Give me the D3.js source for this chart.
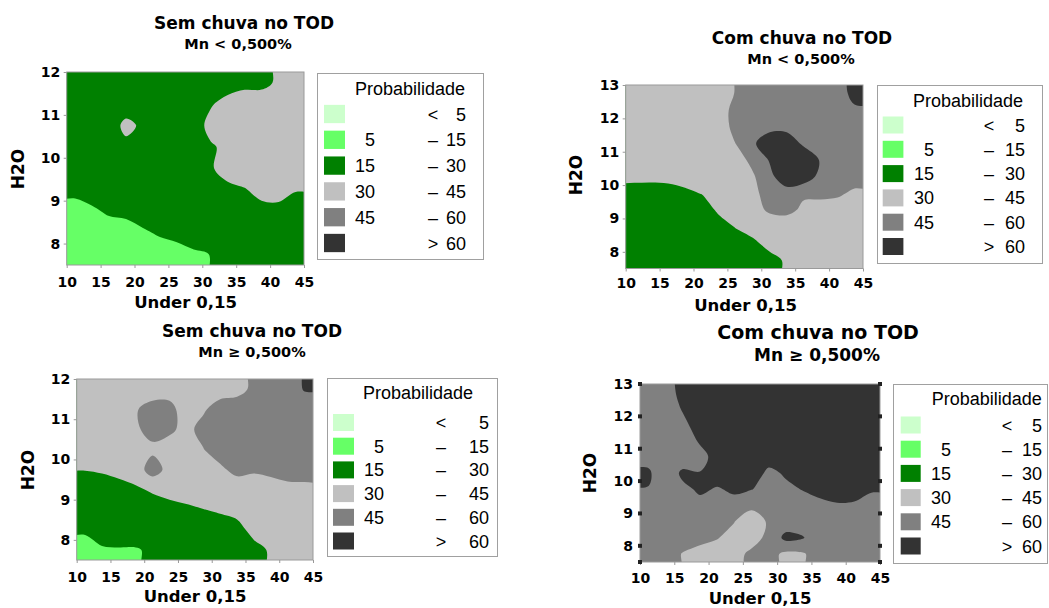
<!DOCTYPE html>
<html>
<head>
<meta charset="utf-8">
<script src="https://cdn.jsdelivr.net/npm/d3@7"></script>
<style>
  body { margin: 0; background: #fff; }
  .title, .axis-label { font-family: "DejaVu Sans", Verdana, sans-serif; font-weight: bold; fill: #000; }
  .axis text { font-family: "DejaVu Sans", Verdana, sans-serif; font-weight: bold; font-size: 14px; fill: #000; }
  .axis line { stroke: #999; }
  .axis path { display: none; }
  .legend text { font-family: "Liberation Sans", Arial, sans-serif; font-size: 18px; fill: #000; }
</style>
</head>
<body>
<svg id="chart" width="1049" height="608"></svg>
<script>
// Probability classes (lower limits) and their colours
var classLimits = [0, 5, 15, 30, 45, 60];
var classColors = ["#ccffcc", "#66ff66", "#008000", "#c0c0c0", "#808080", "#333333"];

// Legend text columns
var legendLow = ["", "5", "15", "30", "45", ""];
var legendSym = ["<", "\u2013", "\u2013", "\u2013", "\u2013", ">"];
var legendHigh = ["5", "15", "30", "45", "60", "60"];

// Tick labels
var xTicks = [10, 15, 20, 25, 30, 35, 40, 45];
var yTicks12 = [8, 9, 10, 11, 12];
var yTicks13 = [8, 9, 10, 11, 12, 13];

var titles = ["Sem chuva no TOD", "Com chuva no TOD", "Sem chuva no TOD", "Com chuva no TOD"];
var subtitles = ["Mn < 0,500%", "Mn < 0,500%", "Mn \u2265 0,500%", "Mn \u2265 0,500%"];

// Probability (%), cells of 2.5 (Under 0,15) x 0.5 (H2O),
// rows from the highest H2O down to 7.5
var probSemMnBaixo = [
  [22, 22, 23, 23, 23, 24, 24, 24, 24, 22, 25, 26.5, 32, 36],
  [22, 22, 23, 18, 23, 24, 24, 25, 28.6, 36, 40, 37.4, 40, 40],
  [22, 22, 18, 36, 26, 23, 24, 22, 35, 40, 42, 42, 42, 40],
  [22, 22, 22, 24, 22, 23, 24, 25, 28.2, 33.5, 40, 42, 42, 40],
  [21, 22, 22, 22, 22, 23, 24, 25, 28, 38, 36, 40, 40, 38],
  [19, 22.4, 23, 24, 24, 24, 24, 25, 26, 25, 29.3, 33.2, 35, 31],
  [9, 12.4, 17.2, 18.6, 22.8, 23, 24, 24, 24, 24, 25, 26.8, 26.1, 21],
  [8, 8, 7.2, 8.6, 12.8, 17, 19.4, 22.8, 23, 23, 23, 23, 22, 21],
  [7, 7, 7, 7, 7, 7, 9.4, 12.8, 15.3, 20, 22, 22, 22, 21]
];

var probComMnBaixo = [
  [37, 37, 37, 37, 37, 36, 46, 52, 53, 53, 53, 53, 54, 64],
  [37, 37, 37, 37, 38, 39.2, 49.2, 52, 53, 54, 54, 53, 52, 58],
  [37, 37, 37, 37, 38, 38.8, 48.8, 53, 56.4, 56, 55, 53, 52, 52],
  [37, 37, 37, 37, 37, 35.2, 45.2, 58.3, 67, 68, 57.7, 53, 52, 52],
  [36, 36, 36, 37, 37, 37, 38.8, 48.8, 61.2, 70, 70, 58.9, 52, 52],
  [33.6, 33.4, 34, 36.6, 37, 38, 40, 43.2, 56, 70, 68, 55.9, 50, 52],
  [23.6, 23.4, 24, 26.6, 30.6, 38, 40, 41.2, 51.2, 53.3, 48, 50, 47.5, 42],
  [20, 20, 21, 22, 21, 33, 37, 38, 48, 50.8, 40.8, 36, 37, 37],
  [20, 20, 21, 22, 22, 23, 31, 36.6, 33, 32, 37, 37, 37, 37],
  [20, 20, 21, 22, 22, 22, 21, 26.6, 35, 36, 37, 37, 37, 37],
  [20, 20, 21, 22, 22, 22, 22, 23, 25, 32.1, 36, 37, 37, 37]
];

var probSemMnAlto = [
  [37, 37, 37, 37, 38, 38, 37, 37, 37, 38.8, 48.8, 52, 53, 61],
  [37, 37, 37, 44, 50, 50, 37, 42.8, 52.8, 55, 55, 55, 54, 53],
  [37, 37, 37, 43, 50, 48, 40.4, 50.4, 55, 56, 56, 55, 54, 53],
  [37, 37, 37, 37, 42, 38, 38, 44.4, 54.4, 56, 55, 54, 53, 53],
  [30.6, 32, 34.6, 37.8, 52, 40, 38, 38, 41.2, 51.2, 47, 50, 52, 52],
  [20.6, 22, 24.6, 27.8, 32, 35, 37.2, 39.6, 38, 33, 37, 36.8, 40.3, 40.7],
  [20, 21, 22, 22, 22, 25, 27.2, 29.6, 32, 34.8, 37, 37, 37, 37],
  [17.6, 23, 22, 22, 22, 22, 22, 22, 22, 24.8, 35, 36, 37, 37],
  [7.6, 13, 14, 14, 17, 20, 22, 23, 24, 25, 25, 31.8, 36, 37]
];

var probComMnAlto = [
  [52, 54.2, 64.2, 70, 70, 70, 70, 70, 70, 70, 70, 70, 70, 70],
  [52, 51.4, 61.4, 68, 70, 70, 70, 70, 70, 70, 70, 70, 70, 70],
  [52, 52, 56.6, 66.6, 70, 70, 70, 70, 70, 70, 70, 70, 70, 70],
  [52, 52, 51.8, 61.8, 68, 70, 70, 70, 70, 70, 70, 70, 70, 70],
  [55.3, 52, 50.5, 55.2, 65.2, 68, 68, 66, 68, 70, 70, 70, 70, 70],
  [62, 50, 63, 60.5, 66, 66, 68, 57, 61.5, 66, 68, 68, 68, 66],
  [59.5, 52, 57, 62, 59, 62, 60.5, 55, 57.5, 60.5, 64, 66, 66, 62],
  [52, 52, 52, 56.4, 54, 56, 48, 52, 54, 55, 56.9, 58.8, 58.1, 52.9],
  [52, 52, 52, 52, 50, 45.3, 38, 46.5, 52, 52, 52, 52, 52, 52],
  [52, 52, 52, 49.3, 45.6, 41, 40, 48, 64, 61, 50, 52, 52, 52],
  [52, 52, 44.2, 40, 40, 41, 47.5, 50, 42, 43.5, 52, 52, 52, 52]
];

// Layout of the four maps (pixels)
var panels = [
  { grid: probSemMnBaixo, yTicks: yTicks12, yMax: 12, left: 66.7, right: 304, top: 72, bottom: 265,
    title: titles[0], sub: subtitles[0], titleX: 244, titleY: 29, subX: 238, subY: 49, titleSize: 17, subSize: 14.5,
    xLabelX: 185.5, xLabelY: 308, yLabelX: 17.5, yLabelY: 169, xPad: 9, dots: false,
    legend: { x: 317, y: 73, w: 166, h: 186, titleX: 355, titleY: 95, row0: 114, pitch: 25.8, swX: 324, swW: 21, swH: 18.3, lowX: 375, symX: 433, highX: 466 } },
  { grid: probComMnBaixo, yTicks: yTicks13, yMax: 13, left: 625.7, right: 863, top: 85, bottom: 268.5,
    title: titles[1], sub: subtitles[1], titleX: 802, titleY: 44, subX: 801, subY: 64, titleSize: 17, subSize: 14.5,
    xLabelX: 745.5, xLabelY: 310.5, yLabelX: 576, yLabelY: 175, xPad: 7, dots: false,
    legend: { x: 877, y: 85, w: 165, h: 178, titleX: 913, titleY: 106.5, row0: 125, pitch: 24.3, swX: 882.7, swW: 20.7, swH: 17, lowX: 934, symX: 989, highX: 1025 } },
  { grid: probSemMnAlto, yTicks: yTicks12, yMax: 12, left: 76.7, right: 313, top: 379, bottom: 560,
    title: titles[2], sub: subtitles[2], titleX: 252, titleY: 337, subX: 252, subY: 357, titleSize: 17, subSize: 14.5,
    xLabelX: 195, xLabelY: 602, yLabelX: 27.5, yLabelY: 470, xPad: 9, dots: false,
    legend: { x: 327, y: 378, w: 170, h: 178, titleX: 363, titleY: 399, row0: 422.5, pitch: 23.7, swX: 333, swW: 21, swH: 17, lowX: 384, symX: 441, highX: 489 } },
  { grid: probComMnAlto, yTicks: yTicks13, yMax: 13, left: 640, right: 880, top: 384, bottom: 562,
    title: titles[3], sub: subtitles[3], titleX: 818, titleY: 339, subX: 817, subY: 361, titleSize: 19, subSize: 17,
    xLabelX: 760, xLabelY: 603.5, yLabelX: 590, yLabelY: 473, xPad: 8, dots: true,
    legend: { x: 893, y: 384, w: 154, h: 179, titleX: 931.7, titleY: 405, row0: 425, pitch: 24.2, swX: 900.7, swW: 20, swH: 17, lowX: 951, symX: 1007, highX: 1042 } }
];

var svg = d3.select("#chart");
var color = d3.scaleThreshold().domain(classLimits.slice(1)).range(classColors);

panels.forEach(function(p, idx) { drawPanel(p, idx); });

// Helper to draw one contour map with its axes, titles and legend
function drawPanel(p, idx)
{
    var g = svg.append("g");

    var x = d3.scaleLinear().domain([10, 45]).range([p.left, p.right]);
    var y = d3.scaleLinear().domain([7.5, p.yMax]).range([p.bottom, p.top]);

    // repeat the outer cells once so that the contour rings close outside the frame
    var ny = p.grid.length, nx = p.grid[0].length;
    var padded = [];
    for (var r = -1; r <= ny; r++)
    {
        var row = p.grid[Math.max(0, Math.min(ny - 1, r))];
        for (var c = -1; c <= nx; c++)
            padded.push(row[Math.max(0, Math.min(nx - 1, c))]);
    }

    // padded grid coordinates -> data values
    var gx = d3.scaleLinear().domain([1, nx + 1]).range([10, 45]);
    var gy = d3.scaleLinear().domain([1, ny + 1]).range([p.yMax, 7.5]);

    var bands = d3.contours()
        .size([nx + 2, ny + 2])
        .thresholds(classLimits)(padded);

    var line = d3.line().curve(d3.curveCatmullRomClosed.alpha(0.5));

    function bandPath(d)
    {
        return d.coordinates.map(function(poly) {
            return poly.map(function(ring) {
                var pts = ring.slice(0, -1).map(function(pt) { return [x(gx(pt[0])), y(gy(pt[1]))]; });
                return line(pts);
            }).join("");
        }).join("");
    }

    // clip to plot area
    g.append("clipPath").attr("id", "clip" + idx)
        .append("rect")
        .attr("x", p.left).attr("y", p.top)
        .attr("width", p.right - p.left).attr("height", p.bottom - p.top);

    g.append("g").attr("clip-path", "url(#clip" + idx + ")")
        .selectAll("path")
        .data(bands)
        .join("path")
        .attr("d", bandPath)
        .attr("fill-rule", "evenodd")
        .attr("fill", function(d) { return color(d.value); });

    // plot frame
    g.append("rect")
        .attr("x", p.left).attr("y", p.top)
        .attr("width", p.right - p.left).attr("height", p.bottom - p.top)
        .attr("fill", "none").attr("stroke", "#9a9a9a").attr("stroke-width", 1);

    // axes
    g.append("g").attr("class", "axis")
        .attr("transform", "translate(0," + p.bottom + ")")
        .call(d3.axisBottom(x).tickValues(xTicks).tickFormat(d3.format("d")).tickSize(3).tickPadding(p.xPad));

    g.append("g").attr("class", "axis")
        .attr("transform", "translate(" + p.left + ",0)")
        .call(d3.axisLeft(y).tickValues(p.yTicks).tickFormat(d3.format("d"))
            .tickSize(p.dots ? 0 : 3).tickPadding(p.dots ? 7 : 3.5));

    // small square tick marks on both sides for the last map
    if (p.dots)
    {
        [p.left, p.right].forEach(function(ex) {
            g.selectAll(null)
                .data(p.yTicks.concat([7.5]))
                .join("rect")
                .attr("x", ex - 2).attr("y", function(d) { return y(d) - 2; })
                .attr("width", 4).attr("height", 4)
                .attr("fill", "#222");
        });
    }

    // titles
    g.append("text").attr("class", "title")
        .attr("x", p.titleX).attr("y", p.titleY)
        .attr("text-anchor", "middle")
        .style("font-size", p.titleSize + "px")
        .text(p.title);

    g.append("text").attr("class", "title")
        .attr("x", p.subX).attr("y", p.subY)
        .attr("text-anchor", "middle")
        .style("font-size", p.subSize + "px")
        .text(p.sub);

    // axis labels
    g.append("text").attr("class", "axis-label")
        .attr("x", p.xLabelX).attr("y", p.xLabelY)
        .attr("text-anchor", "middle")
        .style("font-size", "16.5px")
        .text("Under 0,15");

    g.append("text").attr("class", "axis-label")
        .attr("transform", "translate(" + p.yLabelX + "," + p.yLabelY + ") rotate(-90)")
        .attr("text-anchor", "middle")
        .attr("dy", "0.36em")
        .style("font-size", "17px")
        .text("H2O");

    drawLegend(p.legend);
}

// Helper to draw the probability legend box
function drawLegend(L)
{
    var lg = svg.append("g").attr("class", "legend");

    lg.append("rect")
        .attr("x", L.x + 0.5).attr("y", L.y + 0.5)
        .attr("width", L.w).attr("height", L.h)
        .attr("fill", "#fff").attr("stroke", "#a0a0a0");

    lg.append("text")
        .attr("x", L.titleX).attr("y", L.titleY)
        .text("Probabilidade");

    var rows = lg.selectAll("g.row")
        .data(classColors)
        .join("g")
        .attr("class", "row")
        .attr("transform", function(d, i) { return "translate(0," + (L.row0 + i * L.pitch) + ")"; });

    rows.append("rect")
        .attr("x", L.swX).attr("y", -L.swH / 2)
        .attr("width", L.swW).attr("height", L.swH)
        .attr("fill", function(d) { return d; });

    rows.append("text")
        .attr("x", L.lowX).attr("y", 6.5)
        .attr("text-anchor", "end")
        .text(function(d, i) { return legendLow[i]; });

    rows.append("text")
        .attr("x", L.symX).attr("y", 6.5)
        .attr("text-anchor", "middle")
        .text(function(d, i) { return legendSym[i]; });

    rows.append("text")
        .attr("x", L.highX).attr("y", 6.5)
        .attr("text-anchor", "end")
        .text(function(d, i) { return legendHigh[i]; });
}
</script>
</body>
</html>
